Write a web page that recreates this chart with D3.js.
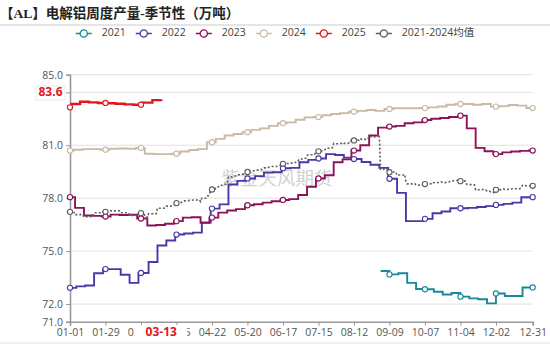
<!DOCTYPE html>
<html>
<head>
<meta charset="utf-8">
<script src="https://cdn.jsdelivr.net/npm/d3@7/dist/d3.min.js"></script>
<style>
  html, body { margin: 0; padding: 0; background: #fff; }
  svg { display: block; }
  text { font-family: "Open Sans", "Noto Sans CJK SC", sans-serif; }
</style>
</head>
<body>
<svg id="chart" width="550" height="344"></svg>
<script>
// Weekly electrolytic aluminium output (10k t), one line per year on a shared 01-01..12-31 axis.
// Each year: an opening reading on 01-01 (where present), then one reading per weekly release.
const years = ["2021", "2022", "2023", "2024", "2025"];
const firstRelease = ["2021-09-02", "2022-01-06", "2023-01-05", "2024-01-04", "2025-01-02"];
const openingValue = [null, 72.92, 78.06, 80.70, 83.15];

const out2021 = [73.87, 73.68, 73.75, 73.20, 72.85, 72.84, 72.70, 72.54, 72.63, 72.42, 72.32, 72.27,
                 72.04, 72.60, 72.46, 72.46, 72.94, 72.94];
const out2022 = [73.00, 73.05, 73.75, 73.98, 73.98, 73.66, 73.20, 73.76, 74.38, 75.32, 75.60, 75.94,
                 76.00, 76.05, 76.62, 77.41, 77.65, 78.78, 78.98, 79.12, 79.25, 79.45, 79.47, 79.70,
                 79.72, 80.04, 80.17, 80.25, 80.50, 80.45, 80.30, 80.22, 80.05, 79.90, 79.72, 79.10,
                 78.30, 76.70, 76.70, 76.83, 77.15, 77.25, 77.43, 77.43, 77.45, 77.50, 77.55, 77.62,
                 77.68, 77.75, 78.05, 78.06];
const out2023 = [77.45, 77.02, 77.00, 76.96, 77.07, 77.05, 77.06, 76.85, 76.45, 76.48, 76.55, 76.70,
                 76.90, 76.92, 76.60, 76.90, 77.18, 77.30, 77.38, 77.60, 77.66, 77.75, 77.83, 77.90,
                 77.95, 78.18, 78.65, 79.12, 79.30, 80.04, 80.20, 80.70, 81.00, 81.55, 82.00, 82.06,
                 82.10, 82.25, 82.30, 82.43, 82.50, 82.55, 82.60, 82.68, 81.96, 80.85, 80.66, 80.50,
                 80.60, 80.65, 80.68, 80.70];
const out2024 = [80.75, 80.78, 80.78, 80.75, 80.80, 80.82, 80.80, 80.85, 80.52, 80.50, 80.50, 80.52,
                 80.65, 80.73, 80.78, 81.17, 81.36, 81.55, 81.64, 81.74, 81.87, 81.96, 82.10, 82.25,
                 82.30, 82.45, 82.58, 82.60, 82.70, 82.77, 82.82, 82.90, 82.95, 83.00, 82.95, 83.06,
                 83.10, 83.10, 83.10, 83.11, 83.15, 83.20, 83.30, 83.34, 83.34, 83.30, 83.34, 83.19,
                 83.22, 83.28, 83.25, 83.11];
const out2025 = [83.34, 83.47, 83.43, 83.40, 83.38, 83.35, 83.32, 83.30, 83.42, 83.56, 83.60];
const weekly = [out2021, out2022, out2023, out2024, out2025];

const avgLabel = "2021-2024均值";
const avgYears = ["2021", "2022", "2023", "2024"];

const seriesColors = ["#18899a", "#4a38a8", "#8c1259", "#c9baa7", "#e3161f"];
const avgColor = "#5e5e5e";

const yTicks = [71, 72, 75, 78, 81, 84, 85];
const yGrid = [72, 75, 78, 81, 84, 85];
const xTickStep = 28;
const lastDay = 365;

const svg = d3.select("#chart");
const W = 550, H = 344;
const plot = { left: 70, right: 532.7, top: 74.7, bottom: 321.7 };

const x = d3.scaleLinear().domain([0, lastDay]).range([plot.left, plot.right]);
const y = d3.scaleLinear().domain([71, 85]).range([plot.bottom, plot.top]);

// Calendar used by the shared axis (leap year so every MM-DD has a slot)
const axisStart = new Date(2024, 0, 1);
const axisDay = dt => d3.timeDay.count(axisStart, new Date(2024, dt.getMonth(), dt.getDate()));
const fmtMD = d3.timeFormat("%m-%d");
const parse = d3.timeParse("%Y-%m-%d");

// Build each year's step series
const series = years.map((yr, i) => {
  const pts = [];
  if (openingValue[i] != null) pts.push({ d: 0, v: openingValue[i] });
  const start = parse(firstRelease[i]);
  weekly[i].forEach((v, k) => pts.push({ d: axisDay(d3.timeDay.offset(start, 7 * k)), v }));
  const end = pts[pts.length - 1];
  const full = end.d >= lastDay - 7;
  const drawPts = full && end.d < lastDay ? pts.concat([{ d: lastDay, v: end.v }]) : pts;
  return { name: yr, color: seriesColors[i], pts, drawPts, first: pts[0].d, last: full ? lastDay : end.d };
});

function valueAt(s, d) {
  if (d < s.first || d > s.last) return undefined;
  let v;
  for (const p of s.pts) { if (p.d <= d) v = p.v; else break; }
  return v;
}

// Daily mean of the available years
const avgSeries = series.filter(s => avgYears.includes(s.name));
const avgPts = d3.range(0, lastDay + 1).map(d => {
  const vals = avgSeries.map(s => valueAt(s, d)).filter(v => v !== undefined);
  return { d, v: d3.mean(vals) };
});

const markerDays = d3.range(0, lastDay - 7, xTickStep).concat([lastDay]);

// Latest reading of the current year
const cur = series[series.length - 1];
const latest = cur.pts[cur.pts.length - 1];
const red = seriesColors[4];

// ---- Title and header rule
svg.append("text")
  .attr("x", 0).attr("y", 15)
  .attr("dominant-baseline", "middle")
  .style("font-family", "'Liberation Serif', 'Noto Sans CJK SC', serif")
  .style("font-weight", "bold")
  .style("font-size", "13.5px")
  .attr("fill", "#222")
  .text("【AL】电解铝周度产量-季节性（万吨）");

svg.append("line")
  .attr("x1", 0).attr("x2", W).attr("y1", 25).attr("y2", 25)
  .attr("stroke", "#dcdcdc").attr("stroke-width", 1.5);

// ---- Grid
svg.append("g").selectAll("line").data(yGrid).join("line")
  .attr("x1", plot.left).attr("x2", plot.right)
  .attr("y1", d => y(d)).attr("y2", d => y(d))
  .attr("stroke", "#e1e1e1").attr("stroke-width", 1);

// ---- Axes (the tick nearest the latest-value tag carries no label)
const yFmt = d3.format(".1f");
const yAxis = svg.append("g")
  .attr("transform", `translate(${plot.left},0)`)
  .call(d3.axisLeft(y).tickValues(yTicks)
    .tickFormat(d => Math.abs(d - latest.v) < 0.5 ? "" : yFmt(d)).tickSize(4).tickPadding(3));
yAxis.select(".domain").attr("stroke", "#999").attr("stroke-width", 1.6);
yAxis.selectAll(".tick line").attr("stroke", "#999");
yAxis.selectAll(".tick text").attr("fill", "#555").style("font-size", "10.5px");

const xTicks = d3.range(0, lastDay - 7, xTickStep).concat([lastDay]);
const xAxis = svg.append("g")
  .attr("transform", `translate(0,${plot.bottom})`)
  .call(d3.axisBottom(x).tickValues(xTicks)
    .tickFormat(d => fmtMD(d3.timeDay.offset(axisStart, d))).tickSize(4).tickPadding(3));
xAxis.select(".domain").attr("stroke", "#999").attr("stroke-width", 1.6);
xAxis.selectAll(".tick line").attr("stroke", "#999");
xAxis.selectAll(".tick text").attr("fill", "#555").style("font-size", "10.5px");

// ---- Watermark
svg.append("text")
  .attr("x", 277).attr("y", 180)
  .attr("text-anchor", "middle").attr("dominant-baseline", "middle")
  .style("font-family", "'Noto Sans CJK SC', sans-serif")
  .style("font-size", "18.5px")
  .attr("fill", "#c4c4c4").attr("opacity", 0.75)
  .text("紫金天风期货");

// ---- Lines
const stepLine = d3.line().x(p => x(p.d)).y(p => y(p.v)).curve(d3.curveStepAfter);
const avgLine = d3.line().x(p => x(p.d)).y(p => y(p.v));

const lines = svg.append("g");
series.forEach(s => {
  lines.append("path")
    .attr("d", stepLine(s.drawPts))
    .attr("fill", "none")
    .attr("stroke", s.color)
    .attr("stroke-width", s.name === "2025" ? 2.4 : 1.9);
});
lines.append("path")
  .attr("d", avgLine(avgPts))
  .attr("fill", "none")
  .attr("stroke", avgColor)
  .attr("stroke-width", 1.6)
  .attr("stroke-dasharray", "2,2");

// ---- Markers
const markers = svg.append("g");
series.forEach(s => {
  const m = markerDays.map(d => ({ d, v: valueAt(s, d) })).filter(p => p.v !== undefined);
  markers.selectAll(null).data(m).join("circle")
    .attr("cx", p => x(p.d)).attr("cy", p => y(p.v)).attr("r", 2.6)
    .attr("fill", "#fff").attr("stroke", s.color).attr("stroke-width", 1.1);
});
markers.selectAll(null).data(markerDays.map(d => avgPts[d])).join("circle")
  .attr("cx", p => x(p.d)).attr("cy", p => y(p.v)).attr("r", 2.6)
  .attr("fill", "#fff").attr("stroke", avgColor).attr("stroke-width", 1.1);

// ---- Latest-value callouts on both axes
const yTag = svg.append("g").attr("transform", `translate(${plot.left - 19.5},${y(latest.v) - 6.5})`);
yTag.append("rect").attr("x", -14.5).attr("y", -7).attr("width", 29).attr("height", 14)
  .attr("fill", "#fff").attr("stroke", "#e4e4e4").attr("stroke-width", 0.8);
yTag.append("text").attr("text-anchor", "middle").attr("dominant-baseline", "middle")
  .style("font-size", "12px").style("font-weight", "bold").attr("fill", red)
  .text(latest.v.toFixed(1));

const xTag = svg.append("g").attr("transform", `translate(${x(latest.d)},${plot.bottom + 11})`);
xTag.append("rect").attr("x", -27).attr("y", -7.5).attr("width", 53).attr("height", 16)
  .attr("fill", "#fff");
xTag.append("text").attr("text-anchor", "middle").attr("dominant-baseline", "middle")
  .style("font-size", "12px").style("font-weight", "bold").attr("fill", red)
  .text(fmtMD(d3.timeDay.offset(axisStart, latest.d)));

// ---- Legend
const legendItems = series.map(s => ({ name: s.name, color: s.color }))
  .concat([{ name: avgLabel, color: avgColor }]);
const legend = svg.append("g");
const items = legend.selectAll("g").data(legendItems).join("g");
items.append("line").attr("x1", 0).attr("x2", 16).attr("y1", 0).attr("y2", 0)
  .attr("stroke", d => d.color).attr("stroke-width", 1.5);
items.append("circle").attr("cx", 8).attr("cy", 0).attr("r", 3.6)
  .attr("fill", "#fff").attr("stroke", d => d.color).attr("stroke-width", 1.3);
items.append("text").attr("x", 26).attr("y", 0).attr("dominant-baseline", "middle")
  .style("font-size", "10.5px").attr("fill", "#444").text(d => d.name);
const widths = [];
items.each(function () { widths.push(26 + this.querySelector("text").getComputedTextLength()); });
const gap = 10;
const total = d3.sum(widths) + gap * (widths.length - 1);
let cx = W / 2 - total / 2;
items.attr("transform", (d, i) => {
  const t = `translate(${cx},33.5)`;
  cx += widths[i] + gap;
  return t;
});

// ---- Bottom strip
svg.append("rect").attr("x", 0).attr("y", 342).attr("width", W).attr("height", 2).attr("fill", "#efefef");
</script>
</body>
</html>
